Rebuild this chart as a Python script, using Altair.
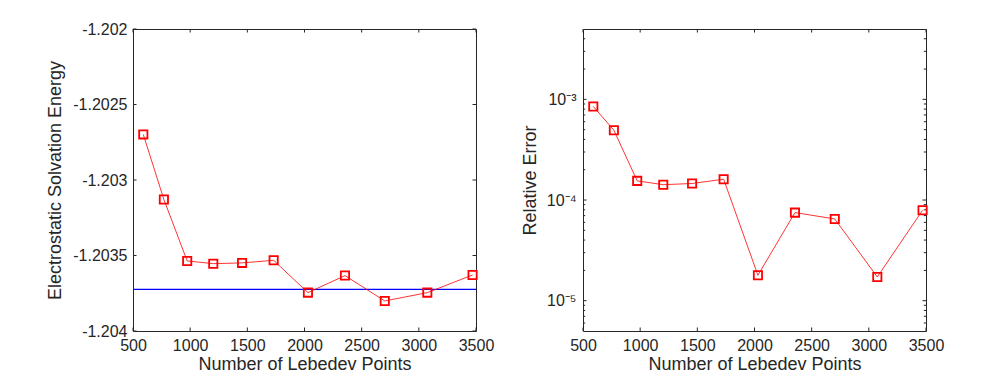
import altair as alt
import pandas as pd

# ---- data ----
lebedev_points = [590, 770, 974, 1202, 1454, 1730, 2030, 2354, 2702, 3074, 3470]
solvation_energy = [-1.202698, -1.203129, -1.203536, -1.203554, -1.203549, -1.203532,
                    -1.203746, -1.203633, -1.203801, -1.203746, -1.203629]
reference_energy = -1.203724
relative_error = [8.51e-4, 4.94e-4, 1.55e-4, 1.42e-4, 1.46e-4, 1.61e-4,
                  1.79e-5, 7.50e-5, 6.49e-5, 1.72e-5, 7.92e-5]

x_ticks = [500, 1000, 1500, 2000, 2500, 3000, 3500]
y_ticks_left = [-1.204, -1.2035, -1.203, -1.2025, -1.202]
y_ticks_right = [1e-5, 1e-4, 1e-3]
y_minor_right = [6e-6, 7e-6, 8e-6, 9e-6,
                 2e-5, 3e-5, 4e-5, 5e-5, 6e-5, 7e-5, 8e-5, 9e-5,
                 2e-4, 3e-4, 4e-4, 5e-4, 6e-4, 7e-4, 8e-4, 9e-4,
                 2e-3, 3e-3, 4e-3]

W, H = 343, 302
FONT = "Liberation Sans"
TXT = "#262626"
FS = 16
TFS = 18
TICK = 3.5
MINOR = 2.2

df1 = pd.DataFrame({"n": lebedev_points, "E": solvation_energy})
df2 = pd.DataFrame({"n": lebedev_points, "err": relative_error})

xscale = alt.Scale(domain=[500, 3500], nice=False, zero=False)
yscale1 = alt.Scale(domain=[-1.204, -1.202], nice=False, zero=False)
yscale2 = alt.Scale(type="log", domain=[5e-6, 5e-3], nice=False)

xaxis = alt.Axis(values=x_ticks, format="d", ticks=False, domain=False, grid=False,
                 labelFlush=False, labelOverlap=False,
                 labelPadding=6, title="Number of Lebedev Points", titlePadding=2)
yaxis1 = alt.Axis(values=y_ticks_left, ticks=False, domain=False, grid=False,
                  labelFlush=False, labelOverlap=False,
                  labelExpr="replace(format(datum.value, '.4~f'), '\u2212', '-')",
                  labelPadding=6, title="Electrostatic Solvation Energy", titlePadding=8)
yaxis2 = alt.Axis(values=y_ticks_right, ticks=False, domain=False, grid=False,
                  labelFlush=False, labelOverlap=False,
                  labelExpr="datum.value < 5e-5 ? '10\u207b\u2075' : datum.value < 5e-4 ? '10\u207b\u2074' : '10\u207b\u00b3'",
                  labelPadding=7, title="Relative Error", titlePadding=7)


def xtick_layers():
    d = pd.DataFrame({"t": x_ticks})
    base = alt.Chart(d).mark_rule(color=TXT, strokeWidth=1)
    bot = base.encode(x=alt.X("t:Q", scale=xscale, axis=xaxis),
                      y=alt.value(H), y2=alt.value(H - TICK))
    top = base.encode(x=alt.X("t:Q", scale=xscale, axis=xaxis),
                      y=alt.value(0), y2=alt.value(TICK))
    return [bot, top]


def ytick_layers(vals, scale, axis, length):
    d = pd.DataFrame({"t": vals})
    base = alt.Chart(d).mark_rule(color=TXT, strokeWidth=1)
    lft = base.encode(y=alt.Y("t:Q", scale=scale, axis=axis),
                      x=alt.value(0), x2=alt.value(length))
    rgt = base.encode(y=alt.Y("t:Q", scale=scale, axis=axis),
                      x=alt.value(W), x2=alt.value(W - length))
    return [lft, rgt]


# ---- left panel ----
line1 = alt.Chart(df1).mark_line(color="#ff0000", strokeWidth=0.8).encode(
    x=alt.X("n:Q", scale=xscale, axis=xaxis),
    y=alt.Y("E:Q", scale=yscale1, axis=yaxis1),
)
pts1 = alt.Chart(df1).mark_point(shape="square", filled=False, color="#ff0000",
                                 size=68, strokeWidth=1.8, opacity=1).encode(
    x=alt.X("n:Q", scale=xscale, axis=xaxis),
    y=alt.Y("E:Q", scale=yscale1, axis=yaxis1),
)
ref = alt.Chart(pd.DataFrame({"r": [reference_energy]})).mark_rule(
    color="#0000ff", strokeWidth=1.2).encode(
    y=alt.Y("r:Q", scale=yscale1, axis=yaxis1))

left = alt.layer(ref, line1, pts1, *xtick_layers(),
                 *ytick_layers(y_ticks_left, yscale1, yaxis1, TICK)).properties(width=W, height=H)

# ---- right panel ----
line2 = alt.Chart(df2).mark_line(color="#ff0000", strokeWidth=0.8).encode(
    x=alt.X("n:Q", scale=xscale, axis=xaxis),
    y=alt.Y("err:Q", scale=yscale2, axis=yaxis2),
)
pts2 = alt.Chart(df2).mark_point(shape="square", filled=False, color="#ff0000",
                                 size=68, strokeWidth=1.8, opacity=1).encode(
    x=alt.X("n:Q", scale=xscale, axis=xaxis),
    y=alt.Y("err:Q", scale=yscale2, axis=yaxis2),
)

right = alt.layer(line2, pts2, *xtick_layers(),
                  *ytick_layers(y_ticks_right, yscale2, yaxis2, TICK),
                  *ytick_layers(y_minor_right, yscale2, yaxis2, MINOR)).properties(width=W, height=H)

chart = alt.hconcat(left, right, spacing=107, bounds="flush").properties(
    padding={"left": 38, "top": 12, "right": 5, "bottom": 5},
    background="white",
).configure_view(stroke=TXT, strokeWidth=1).configure_axis(
    labelFont=FONT, titleFont=FONT, labelFontSize=FS, titleFontSize=TFS,
    labelColor=TXT, titleColor=TXT, titleFontWeight="normal"
)

chart.save("out.html", embed_options={"renderer": "svg", "actions": False})
